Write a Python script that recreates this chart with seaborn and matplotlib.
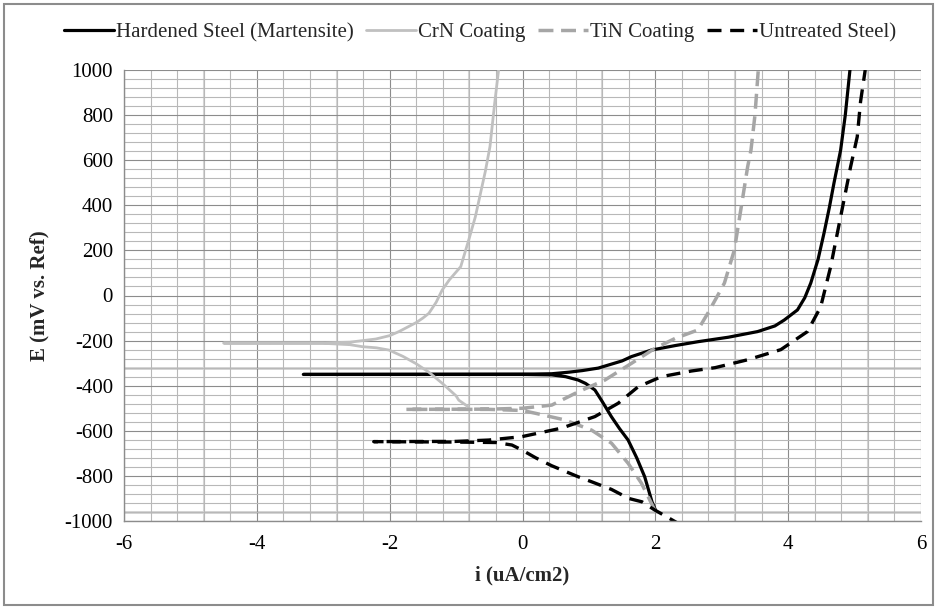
import matplotlib
matplotlib.use("Agg")
import matplotlib.pyplot as plt
from matplotlib.patches import Rectangle
from matplotlib.ticker import MultipleLocator
import seaborn as sns

# polarization curves: cathodic end -> Ecorr -> minimum current -> back -> anodic end
hardened_i = [2.0, 1.95, 1.84, 1.72, 1.59, 1.46, 1.34, 1.2, 1.09, 0.95, 0.84, 0.65, 0.44, 0.0, -3.3,
              0.0, 0.44, 0.7, 0.9, 1.14, 1.5, 1.64, 1.94, 2.3, 2.64, 3.1, 3.54, 3.8, 3.94, 4.14,
              4.25, 4.34, 4.45, 4.54, 4.62, 4.69, 4.79, 4.86, 4.93]
hardened_e = [-950, -915, -804, -720, -641, -590, -538, -470, -419, -390, -375, -360, -352, -350, -350,
              -349, -347, -340, -333, -322, -290, -271, -242, -222, -205, -185, -160, -135, -109, -64,
              -10, 55, 160, 277, 390, 499, 645, 800, 1000]

crn_i = [-0.81, -0.96, -1.0, -1.21, -1.41, -1.61, -1.8, -2.01, -2.2, -2.41, -2.6, -3.0, -4.5,
         -3.0, -2.6, -2.21, -2.0, -1.86, -1.6, -1.5, -1.41, -1.3, -1.21, -1.1, -0.93, -0.81,
         -0.71, -0.56, -0.49, -0.42, -0.36]
crn_e = [-495, -464, -445, -389, -340, -301, -270, -242, -232, -227, -218, -212, -211,
         -210, -207, -193, -178, -160, -120, -100, -79, -30, 24, 70, 128, 246,
         349, 550, 660, 850, 1000]

tin_i = [1.99, 1.94, 1.79, 1.59, 1.34, 1.04, 0.64, 0.19, 0.0, -0.5, -1.76,
         -0.5, 0.0, 0.44, 0.84, 1.24, 1.64, 1.99, 2.3, 2.64, 2.79, 2.92, 3.04, 3.19,
         3.31, 3.39, 3.44, 3.5, 3.55]
tin_e = [-951, -921, -832, -744, -655, -597, -552, -522, -510, -505, -505,
         -504, -500, -486, -427, -375, -301, -235, -190, -153, -79, -10, 55, 202,
         423, 571, 645, 800, 1000]

untreated_i = [2.4, 1.99, 1.8, 1.6, 1.34, 1.04, 0.84, 0.44, 0.2, -0.01, -0.16, -0.4, -1.0, -2.24,
               -1.0, -0.51, -0.01, 0.59, 1.09, 1.44, 1.74, 2.09, 2.54, 2.9, 3.39, 3.89, 4.29,
               4.49, 4.64, 4.74, 4.84, 4.94, 5.04, 5.09, 5.16]
untreated_e = [-1020, -951, -915, -900, -860, -826, -804, -755, -720, -685, -663, -652, -650, -648,
               -647, -641, -626, -588, -537, -478, -405, -360, -335, -320, -285, -240, -160,
               -50, 128, 276, 423, 571, 704, 860, 1000]

series = [
    ("Hardened Steel (Martensite)", hardened_i, hardened_e),
    ("CrN Coating", crn_i, crn_e),
    ("TiN Coating", tin_i, tin_e),
    ("Untreated Steel)", untreated_i, untreated_e),
]
line_styles = {
    "Hardened Steel (Martensite)": dict(color="black", linewidth=2.3, linestyle="-"),
    "CrN Coating": dict(color="#c0c0c0", linewidth=2.0, linestyle="-"),
    "TiN Coating": dict(color="#a6a6a6", linewidth=2.5, linestyle=(0, (4.3, 2.2))),
    "Untreated Steel)": dict(color="black", linewidth=2.4, linestyle=(0, (4.2, 2.6))),
}
# light, slightly heavier grid lines seen in the original rendering
light_hlines = [-320, -960]
light_vlines = [-4.8, -2.8, -0.8, 1.2, 3.2, 5.2]

sns.set_style("white")
plt.rcParams["font.family"] = ["Liberation Serif", "DejaVu Serif"]
plt.rcParams["axes.unicode_minus"] = False

fig = plt.figure(figsize=(9.36, 6.09), dpi=100)
ax = fig.add_axes([124 / 936, 1 - 521 / 609, 797 / 936, 451 / 609])

for name, xs, ys in series:
    sns.lineplot(x=xs, y=ys, sort=False, estimator=None, label=name, ax=ax, **line_styles[name])

ax.set_xlim(-6, 6)
ax.set_ylim(-1000, 1000)
ax.xaxis.set_major_locator(MultipleLocator(2))
ax.xaxis.set_minor_locator(MultipleLocator(0.4))
ax.yaxis.set_major_locator(MultipleLocator(200))
ax.yaxis.set_minor_locator(MultipleLocator(40))

ax.set_axisbelow(True)
ax.grid(which="major", axis="both", color="#8c8c8c", linewidth=0.8)
ax.grid(which="minor", axis="both", color="#b8b8b8", linewidth=0.8)
for v in light_hlines:
    ax.axhline(v, color="#d2d2d2", linewidth=2.0, zorder=0.5)
for v in light_vlines:
    ax.axvline(v, color="#d6d6d6", linewidth=1.5, zorder=0.5)

for side in ["top", "right"]:
    ax.spines[side].set_visible(False)
for side in ["left", "bottom"]:
    ax.spines[side].set_color("#8c8c8c")
    ax.spines[side].set_linewidth(1.0)

ax.tick_params(which="major", direction="out", length=4, width=0.8, color="#8c8c8c",
               labelsize=15, labelcolor="black")
ax.tick_params(axis="x", which="major", pad=6)
ax.tick_params(axis="y", which="major", pad=4)
ax.tick_params(axis="x", which="minor", direction="out", length=2.5, width=0.8, color="#8c8c8c")
ax.tick_params(axis="y", which="minor", length=0)

ax.set_xlabel("i (uA/cm2)", fontsize=15, fontweight="bold")
ax.set_ylabel("E (mV vs. Ref)", fontsize=15, fontweight="bold")
ax.xaxis.set_label_coords(0.5, -0.098)
ax.yaxis.set_label_coords(-0.093, 0.5)

handles, labels = ax.get_legend_handles_labels()
ax.get_legend().remove()
fig.legend(handles, labels, loc="center", bbox_to_anchor=(0.513, 0.947), ncol=4, frameon=False,
           fontsize=15, handlelength=2.4, handletextpad=0.1, columnspacing=0.6, borderpad=0.2)

fig.add_artist(Rectangle((0.004, 0.0066), 0.993, 0.987, transform=fig.transFigure,
                         fill=False, edgecolor="#8c8c8c", linewidth=1.5))

fig.savefig("out.png", dpi=100)
